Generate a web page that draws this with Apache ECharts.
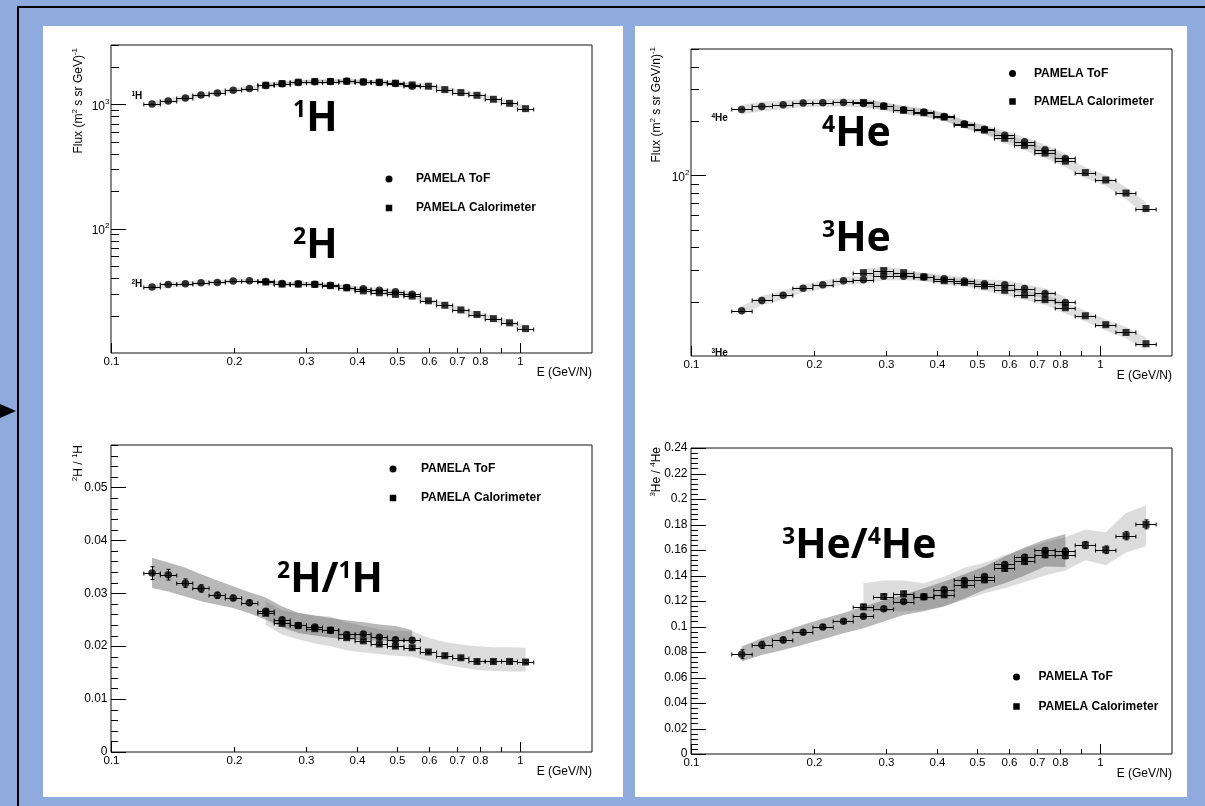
<!DOCTYPE html>
<html>
<head>
<meta charset="utf-8">
<script src="https://cdn.jsdelivr.net/npm/echarts@6.0.0/dist/echarts.min.js"></script>
<style>
html,body{margin:0;padding:0;width:1205px;height:806px;overflow:hidden;background:#8FAADC;}
.panel{position:absolute;background:#fff;}
#chart{position:absolute;left:0;top:0;width:1205px;height:806px;}
</style>
</head>
<body>
<div class="panel" style="left:43px;top:26px;width:580px;height:771px"></div>
<div class="panel" style="left:635px;top:26px;width:552px;height:771px"></div>
<div style="position:absolute;left:17px;top:6px;width:1188px;height:2px;background:#000"></div>
<div style="position:absolute;left:17px;top:6px;width:2px;height:800px;background:#000"></div>
<div style="position:absolute;left:0;top:404px;width:0;height:0;border-top:7px solid transparent;border-bottom:7px solid transparent;border-left:16px solid #000"></div>
<div id="chart"></div>
<script>
// ================= DATA =================
// Hydrogen energy bins (GeV/N): centres and bin edges
const hEnergy = [0.126,0.138,0.152,0.166,0.182,0.199,0.218,0.239,0.262,0.287,0.315,0.344,0.377,0.414,0.453,0.496,0.545,0.597,0.655,0.717,0.785,0.861,0.943,1.032];
const hBinEdges = [0.1203,0.1320,0.1448,0.1585,0.1737,0.1903,0.2086,0.2286,0.2507,0.2743,0.3006,0.3289,0.3605,0.3952,0.4325,0.4740,0.5204,0.5706,0.6253,0.6845,0.7501,0.8221,0.9012,0.9859,1.0803];
// Helium energy bins (GeV/n)
const heEnergy = [0.133,0.149,0.168,0.188,0.210,0.236,0.264,0.296,0.331,0.371,0.416,0.466,0.522,0.585,0.654,0.734,0.823,0.921,1.033,1.158,1.296];
const heBinEdges = [0.1258,0.1411,0.1582,0.1774,0.1986,0.2227,0.2492,0.2795,0.3128,0.3508,0.3925,0.4402,0.4935,0.5522,0.6182,0.6931,0.7773,0.8699,0.9754,1.094,1.224,1.372];
// which bins each instrument covers
const hTofBins = [0, 17], hCalBins = [7, 24];
const heTofBins = [0, 17], heCalBins = [6, 21];

// 1H and 2H fluxes (m^2 s sr GeV)^-1
const h1Tof = [1007,1065,1126,1190,1235,1298,1338,1420,1465,1500,1520,1525,1530,1510,1500,1470,1400];
const h1Cal = [1424,1469,1506,1525,1525,1534,1515,1506,1478,1433,1398,1313,1243,1182,1098,1019,923];
const h2Tof = [33.9,35.6,36.0,36.7,36.9,37.9,38.1,37.6,36.2,36.0,35.8,35.0,33.6,32.8,32.0,31.1,29.7];
const h2Cal = [37.2,35.8,35.8,35.6,34.8,33.4,31.6,30.5,29.6,28.7,26.3,24.2,22.2,20.4,18.9,17.5,15.7];
// relative systematic bands on the H fluxes
const hSysTof = [0.05,0.05,0.045,0.045,0.045,0.04,0.04,0.04,0.04,0.04,0.04,0.04,0.04,0.04,0.045,0.045,0.05];
const hSysCal = [0.04,0.04,0.04,0.04,0.04,0.04,0.04,0.04,0.045,0.045,0.05,0.05,0.05,0.05,0.05,0.055,0.055];

// 4He and 3He fluxes (m^2 s sr GeV/n)^-1
const he4Tof = [231.5,240.6,245.8,251.1,252.2,253.2,250.0,242.7,230.5,223.7,211.6,192.6,179.8,166.5,153.5,138.5,123.9];
const he4Cal = [253,240.6,229,222,210,191,178,160.2,146.4,132.7,119.7,103.5,94.2,79.8,65.5];
const he3Tof = [17.8,20.3,21.7,23.7,24.8,26.1,26.4,27.6,27.6,27.4,26.8,26.0,25.1,24.8,23.6,22.2,19.8];
const he3Cal = [28.9,29.7,28.9,27.4,26.1,25.5,24.4,23.1,21.8,20.5,18.5,16.7,14.9,13.5,11.7];
const heSysTof = [0.06,0.06,0.055,0.05,0.05,0.05,0.05,0.05,0.05,0.05,0.05,0.05,0.055,0.06,0.06,0.065,0.07];
const heSysCal = [0.05,0.05,0.05,0.05,0.05,0.05,0.055,0.06,0.06,0.065,0.07,0.07,0.07,0.075,0.08];

// 2H/1H ratio
const rHTof = [0.0338,0.0335,0.0319,0.0309,0.0296,0.0291,0.0282,0.0266,0.0250,0.0239,0.0236,0.0230,0.0222,0.0223,0.0217,0.0212,0.0211];
const rHCal = [0.0262,0.0243,0.0239,0.0233,0.0230,0.0216,0.0210,0.0204,0.0200,0.0197,0.0189,0.0182,0.0178,0.0171,0.0171,0.0171,0.0170];
const rHTofErr = [0.0012,0.0010,0.0008,0.0007,0.0006,0.0005,0.0005,0.0004,0.0004,0.0004,0.0004,0.0004,0.0004,0.0004,0.0004,0.0004,0.0004];
const rHCalErr = [0.0004,0.0003,0.0003,0.0003,0.0003,0.0003,0.0003,0.0003,0.0003,0.0003,0.0003,0.0003,0.0003,0.0003,0.0003,0.0003,0.0003];
const rHTofLo = [0.0310,0.0303,0.0294,0.0285,0.0278,0.0272,0.0262,0.0250,0.0235,0.0225,0.0220,0.0216,0.0213,0.0211,0.0210,0.0209,0.0209];
const rHTofHi = [0.0367,0.0358,0.0348,0.0336,0.0324,0.0313,0.0302,0.0292,0.0275,0.0263,0.0258,0.0253,0.0249,0.0245,0.0241,0.0238,0.0230];
const rHCalLo = [0.0240,0.0222,0.0213,0.0205,0.0200,0.0192,0.0188,0.0185,0.0182,0.0180,0.0172,0.0165,0.0160,0.0155,0.0153,0.0152,0.0152];
const rHCalHi = [0.0285,0.0268,0.0262,0.0258,0.0256,0.0245,0.0238,0.0232,0.0229,0.0228,0.0216,0.0208,0.0203,0.0200,0.0198,0.0198,0.0197];

// 3He/4He ratio
const rHeTof = [0.0783,0.0856,0.0895,0.0955,0.0997,0.1042,0.1081,0.1139,0.1196,0.1233,0.1290,0.1361,0.1392,0.1487,0.1544,0.1597,0.1591];
const rHeCal = [0.1154,0.1235,0.1256,0.1233,0.1249,0.1327,0.1366,0.1455,0.1510,0.1563,0.1557,0.1639,0.1602,0.1712,0.1801];
const rHeTofErr = [0.0035,0.0028,0.0022,0.0018,0.0016,0.0015,0.0015,0.0015,0.0015,0.0015,0.0016,0.0016,0.0017,0.0018,0.0020,0.0022,0.0024];
const rHeCalErr = [0.0020,0.0020,0.0020,0.0020,0.0020,0.0020,0.0020,0.0020,0.0022,0.0024,0.0026,0.0028,0.0030,0.0032,0.0035];
const rHeTofLo = [0.0725,0.0777,0.0815,0.0856,0.0900,0.0948,0.0987,0.1040,0.1091,0.1120,0.1157,0.1220,0.1288,0.1340,0.1400,0.1471,0.1466];
const rHeTofHi = [0.0843,0.0908,0.0960,0.1013,0.1060,0.1105,0.1157,0.1205,0.1249,0.1300,0.1353,0.1410,0.1471,0.1549,0.1620,0.1680,0.1725];
const rHeCalLo = [0.112,0.112,0.112,0.113,0.116,0.121,0.126,0.130,0.135,0.140,0.144,0.152,0.148,0.158,0.163];
const rHeCalHi = [0.134,0.136,0.136,0.134,0.139,0.146,0.150,0.156,0.161,0.166,0.170,0.176,0.174,0.189,0.195];

// axis ticks & labels
const xTickValues = [0.1,0.2,0.3,0.4,0.5,0.6,0.7,0.8,0.9,1];
const xTickLabels = ['0.1','0.2','0.3','0.4','0.5','0.6','0.7','0.8','','1'];
const xMajorTicks = [0.1,1];
const fluxHDecades = [10,100,1000];
const fluxHMajor = [100,1000];
const fluxHExp = ['2','3'];
const fluxHeDecades = [10,100];
const fluxHeMajor = [100];
const fluxHeExp = ['2'];
const ratioHMajor = [0,0.01,0.02,0.03,0.04,0.05];
const ratioHLabels = ['0','0.01','0.02','0.03','0.04','0.05'];
const ratioHeMajor = [0,0.02,0.04,0.06,0.08,0.1,0.12,0.14,0.16,0.18,0.2,0.22,0.24];
const ratioHeLabels = ['0','0.02','0.04','0.06','0.08','0.1','0.12','0.14','0.16','0.18','0.2','0.22','0.24'];
const legendNames = ['PAMELA ToF','PAMELA Calorimeter'];

// ================= CHART =================
const FONT = '"Liberation Sans", Arial, sans-serif';
const BIG = '"Open Sans", sans-serif';
const chart = echarts.init(document.getElementById('chart'), null, {renderer:'canvas', width:1205, height:806});

const gridsPx = [
  {left:111, top:45, width:481, height:308},
  {left:691, top:49, width:481, height:307},
  {left:111, top:445, width:481, height:307},
  {left:691, top:448, width:481, height:306}
];
const yRanges = [
  {type:'log', min:10, max:3000},
  {type:'log', min:10, max:500},
  {type:'value', min:0, max:0.058},
  {type:'value', min:0, max:0.24}
];

const grid = gridsPx.map(g => Object.assign({show:true, borderColor:'#111', borderWidth:1, backgroundColor:'transparent', z:1}, g));
const xAxis = gridsPx.map((g,i) => ({type:'log', logBase:10, min:0.1, max:1.5, gridIndex:i, show:false}));
const yAxis = yRanges.map((r,i) => Object.assign({gridIndex:i, show:false, scale:true}, r.type==='log' ? {type:'log', logBase:10, min:r.min, max:r.max} : {type:'value', min:r.min, max:r.max}));

const series = [];
const blk = {stroke:'#000', lineWidth:1};

function sl(arr, range){ return arr.slice(range[0], range[1]); }

function band(gi, xs, lo, hi, color) {
  const data = xs.map((x,i)=>[x, lo[i], hi[i]]);
  series.push({type:'custom', xAxisIndex:gi, yAxisIndex:gi, silent:true, z:2, data, encode:{x:0, y:[1,2]},
    renderItem(params, api){
      if (params.dataIndex !== 0) return null;
      const top = data.map(d=>api.coord([d[0], d[2]]));
      const bot = data.map(d=>api.coord([d[0], d[1]])).reverse();
      return {type:'polygon', shape:{points: top.concat(bot)}, style:{fill:color}};
    }});
}
function errbars(gi, xs, ys, xlo, xhi, yerr) {
  const data = xs.map((x,i)=>[x, ys[i], xlo[i], xhi[i], yerr ? yerr[i] : 0]);
  series.push({type:'custom', xAxisIndex:gi, yAxisIndex:gi, silent:true, z:3, data, encode:{x:0, y:1},
    renderItem(params, api){
      const x=api.value(0), y=api.value(1), a=api.value(2), b=api.value(3), e=api.value(4);
      const p=api.coord([x,y]), pa=api.coord([a,y]), pb=api.coord([b,y]);
      const yy = Math.round(p[1])+0.5;
      const ch=[
        {type:'line', shape:{x1:pa[0],y1:yy,x2:pb[0],y2:yy}, style:blk},
        {type:'line', shape:{x1:pa[0],y1:yy-2,x2:pa[0],y2:yy+2}, style:blk},
        {type:'line', shape:{x1:pb[0],y1:yy-2,x2:pb[0],y2:yy+2}, style:blk}
      ];
      if (e > 0) {
        const pt=api.coord([x,y+e]), pl=api.coord([x,y-e]);
        const xx = Math.round(p[0])+0.5;
        ch.push({type:'line', shape:{x1:xx,y1:pt[1],x2:xx,y2:pl[1]}, style:blk});
        ch.push({type:'line', shape:{x1:xx-2,y1:pt[1],x2:xx+2,y2:pt[1]}, style:blk});
        ch.push({type:'line', shape:{x1:xx-2,y1:pl[1],x2:xx+2,y2:pl[1]}, style:blk});
      }
      return {type:'group', children:ch};
    }});
}
function marks(gi, xs, ys, symbol, size) {
  series.push({type:'scatter', xAxisIndex:gi, yAxisIndex:gi, silent:true, z:4, symbol, symbolSize:size,
    itemStyle:{color:'#000'}, data: xs.map((x,i)=>[x, ys[i]])});
}
function txtEl(x, y, t, size, align, va, weight) {
  return {type:'text', x, y, style:{text:t, fontSize:size, fontFamily:FONT, fontWeight:weight||'normal', fill:'#000',
    align, verticalAlign:va, textAlign:align, textVerticalAlign:va}};
}
function deco(gi, spec) {
  series.push({type:'custom', xAxisIndex:gi, yAxisIndex:gi, silent:true, z:6, data:[[0.1, spec.yRef]], encode:{x:0, y:1},
    renderItem(params, api){
      const cs = params.coordSys;
      const L = cs.x, B = cs.y + cs.height;
      const ch = [];
      xTickValues.forEach((v,i)=>{
        const px = Math.round(api.coord([v, spec.yRef])[0]) + 0.5;
        const len = xMajorTicks.indexOf(v) >= 0 ? 10 : 5;
        ch.push({type:'line', shape:{x1:px,y1:B,x2:px,y2:B-len}, style:blk});
        if (xTickLabels[i]) ch.push(txtEl(px, B+9, xTickLabels[i], 11.5, 'center', 'middle'));
      });
      if (spec.log) {
        spec.decades.forEach(d=>{
          for (let k=2;k<=9;k++){
            const v=d*k; if (v > spec.ymax*1.0001) break;
            const py = Math.round(api.coord([0.1, v])[1]) + 0.5;
            ch.push({type:'line', shape:{x1:L,y1:py,x2:L+8,y2:py}, style:blk});
          }
        });
        spec.major.forEach((v,i)=>{
          const py0 = api.coord([0.1, v])[1];
          const py = Math.round(py0) + 0.5;
          ch.push({type:'line', shape:{x1:L,y1:py,x2:L+15,y2:py}, style:blk});
          ch.push(txtEl(L-6, py0+2.5, '10', 12, 'right', 'middle'));
          ch.push(txtEl(L-6, py0-3, spec.exp[i], 8, 'left', 'middle'));
        });
      } else {
        const step = (spec.major[1]-spec.major[0]) / spec.split;
        for (let k=0; k*step <= spec.ymax*1.0001; k++) {
          if (k % spec.split === 0) continue;
          const py = Math.round(api.coord([0.1, k*step])[1]) + 0.5;
          ch.push({type:'line', shape:{x1:L,y1:py,x2:L+7,y2:py}, style:blk});
        }
        spec.major.forEach((v,i)=>{
          const py0 = api.coord([0.1, v])[1];
          const py = Math.round(py0) + 0.5;
          ch.push({type:'line', shape:{x1:L,y1:py,x2:L+15,y2:py}, style:blk});
          ch.push(txtEl(L-3.5, py0, spec.labels[i], 12, 'right', 'middle'));
        });
      }
      return {type:'group', children:ch};
    }});
}

// ---- panel 0 : 1H / 2H fluxes
const hTofE = sl(hEnergy,hTofBins), hCalE = sl(hEnergy,hCalBins);
const hLo = hBinEdges.slice(0,-1), hHi = hBinEdges.slice(1);
const hTofLoE = sl(hLo,hTofBins), hTofHiE = sl(hHi,hTofBins), hCalLoE = sl(hLo,hCalBins), hCalHiE = sl(hHi,hCalBins);
const FLUXBAND = 'rgba(110,110,110,0.22)';
[[h1Tof,h1Cal],[h2Tof,h2Cal]].forEach(([tof,cal])=>{
  band(0, hCalE, cal.map((v,i)=>v*(1-hSysCal[i])), cal.map((v,i)=>v*(1+hSysCal[i])), FLUXBAND);
  band(0, hTofE, tof.map((v,i)=>v*(1-hSysTof[i])), tof.map((v,i)=>v*(1+hSysTof[i])), FLUXBAND);
  errbars(0, hTofE, tof, hTofLoE, hTofHiE, null);
  errbars(0, hCalE, cal, hCalLoE, hCalHiE, null);
  marks(0, hTofE, tof, 'circle', 7.5);
  marks(0, hCalE, cal, 'rect', 7);
});
deco(0, {yRef:10, log:true, decades:fluxHDecades, major:fluxHMajor, exp:fluxHExp, ymax:3000});

// ---- panel 1 : 4He / 3He fluxes
const heTofE = sl(heEnergy,heTofBins), heCalE = sl(heEnergy,heCalBins);
const heLo = heBinEdges.slice(0,-1), heHi = heBinEdges.slice(1);
const heTofLoE = sl(heLo,heTofBins), heTofHiE = sl(heHi,heTofBins), heCalLoE = sl(heLo,heCalBins), heCalHiE = sl(heHi,heCalBins);
[[he4Tof,he4Cal],[he3Tof,he3Cal]].forEach(([tof,cal])=>{
  band(1, heCalE, cal.map((v,i)=>v*(1-heSysCal[i])), cal.map((v,i)=>v*(1+heSysCal[i])), FLUXBAND);
  band(1, heTofE, tof.map((v,i)=>v*(1-heSysTof[i])), tof.map((v,i)=>v*(1+heSysTof[i])), FLUXBAND);
  errbars(1, heTofE, tof, heTofLoE, heTofHiE, null);
  errbars(1, heCalE, cal, heCalLoE, heCalHiE, null);
  marks(1, heTofE, tof, 'circle', 7.5);
  marks(1, heCalE, cal, 'rect', 7);
});
deco(1, {yRef:10, log:true, decades:fluxHeDecades, major:fluxHeMajor, exp:fluxHeExp, ymax:500});

// ---- panel 2 : 2H/1H
const LIGHT = 'rgba(150,150,150,0.33)', DARK = 'rgba(85,85,85,0.42)';
band(2, hCalE, rHCalLo, rHCalHi, LIGHT);
band(2, hTofE, rHTofLo, rHTofHi, DARK);
errbars(2, hTofE, rHTof, hTofLoE, hTofHiE, rHTofErr);
errbars(2, hCalE, rHCal, hCalLoE, hCalHiE, rHCalErr);
marks(2, hTofE, rHTof, 'circle', 7.5);
marks(2, hCalE, rHCal, 'rect', 7);
deco(2, {yRef:0.01, log:false, major:ratioHMajor, labels:ratioHLabels, split:5, ymax:0.058});

// ---- panel 3 : 3He/4He
band(3, heCalE, rHeCalLo, rHeCalHi, LIGHT);
band(3, heTofE, rHeTofLo, rHeTofHi, DARK);
errbars(3, heTofE, rHeTof, heTofLoE, heTofHiE, rHeTofErr);
errbars(3, heCalE, rHeCal, heCalLoE, heCalHiE, rHeCalErr);
marks(3, heTofE, rHeTof, 'circle', 7.5);
marks(3, heCalE, rHeCal, 'rect', 7);
deco(3, {yRef:0.1, log:false, major:ratioHeMajor, labels:ratioHeLabels, split:5, ymax:0.24});

// ================= ANNOTATIONS =================
const graphic = [];
function rich(x, y, text, base, supSize, mainSize, family, weight, extra) {
  const r = {
    s:{fontSize:supSize, fontFamily:family, fontWeight:weight, fill:'#000', lineHeight:Math.round(supSize*1.05), verticalAlign:'top'},
    m:{fontSize:mainSize, fontFamily:family, fontWeight:weight, fill:'#000', lineHeight:base, verticalAlign:'top'}
  };
  return {type:'text', x, y, z:100, silent:true,
    style:Object.assign({text, rich:r, fontSize:mainSize, fontFamily:family, fontWeight:weight, fill:'#000', lineHeight:base}, extra||{})};
}
// big labels
const bigLabels = ['{s|1}{m|H}','{s|2}{m|H}','{s|4}{m|He}','{s|3}{m|He}','{s|2}{m|H/}{s|1}{m|H}','{s|3}{m|He/}{s|4}{m|He}'];
const bigPos = [[293,99],[293,226],[822,114],[822,219],[277,560],[782,526]];
bigLabels.forEach((t,i)=>graphic.push(rich(bigPos[i][0], bigPos[i][1], t, 40, 23, 41, BIG, 'bold',
  {align:'left', verticalAlign:'top', textAlign:'left', textVerticalAlign:'top'})));
// small in-plot labels
const smallLabels = ['{s|1}{m|H}','{s|2}{m|H}','{s|4}{m|He}','{s|3}{m|He}'];
const smallPos = [[131.5,91],[131.5,279],[711.5,113],[711.5,348]];
smallLabels.forEach((t,i)=>graphic.push(rich(smallPos[i][0], smallPos[i][1], t, 10, 6.5, 10, FONT, 'bold',
  {align:'left', verticalAlign:'top', textAlign:'left', textVerticalAlign:'top'})));
// y titles (rotated)
const yTitles = ['Flux (m{s|2} s sr GeV){s|-1}','Flux (m{s|2} s sr GeV/n){s|-1}','{s|2}H / {s|1}H','{s|3}He / {s|4}He'];
const yTitlePos = [[79,48],[657,47],[79,445],[657,447]];
yTitles.forEach((t,i)=>{
  const el = rich(yTitlePos[i][0], yTitlePos[i][1], t, 16, 8, 12, FONT, 'normal',
    {align:'right', verticalAlign:'middle', textAlign:'right', textVerticalAlign:'middle'});
  el.rotation = Math.PI/2;
  graphic.push(el);
});
// x titles
gridsPx.forEach(g=>{
  graphic.push(Object.assign(txtEl(g.left+g.width, g.top+g.height+20, 'E (GeV/N)', 12, 'right', 'middle'), {z:100, silent:true}));
});
// legends
const legendPos = [[389,179,208,416],[1012.5,73.5,101.5,1034],[393,469,498,421],[1016.5,677,706.5,1038.5]];
legendPos.forEach(([cx,y1,y2,tx])=>{
  graphic.push({type:'circle', z:100, silent:true, shape:{cx, cy:y1, r:3.5}, style:{fill:'#000'}});
  graphic.push({type:'rect', z:100, silent:true, shape:{x:cx-3.25, y:y2-3.25, width:6.5, height:6.5}, style:{fill:'#000'}});
  graphic.push(Object.assign(txtEl(tx, y1, legendNames[0], 12, 'left', 'middle', 'bold'), {z:100, silent:true}));
  graphic.push(Object.assign(txtEl(tx, y2, legendNames[1], 12, 'left', 'middle', 'bold'), {z:100, silent:true}));
});

chart.setOption({
  animation:false,
  backgroundColor:'transparent',
  grid, xAxis, yAxis, series, graphic
});
</script>
</body>
</html>
